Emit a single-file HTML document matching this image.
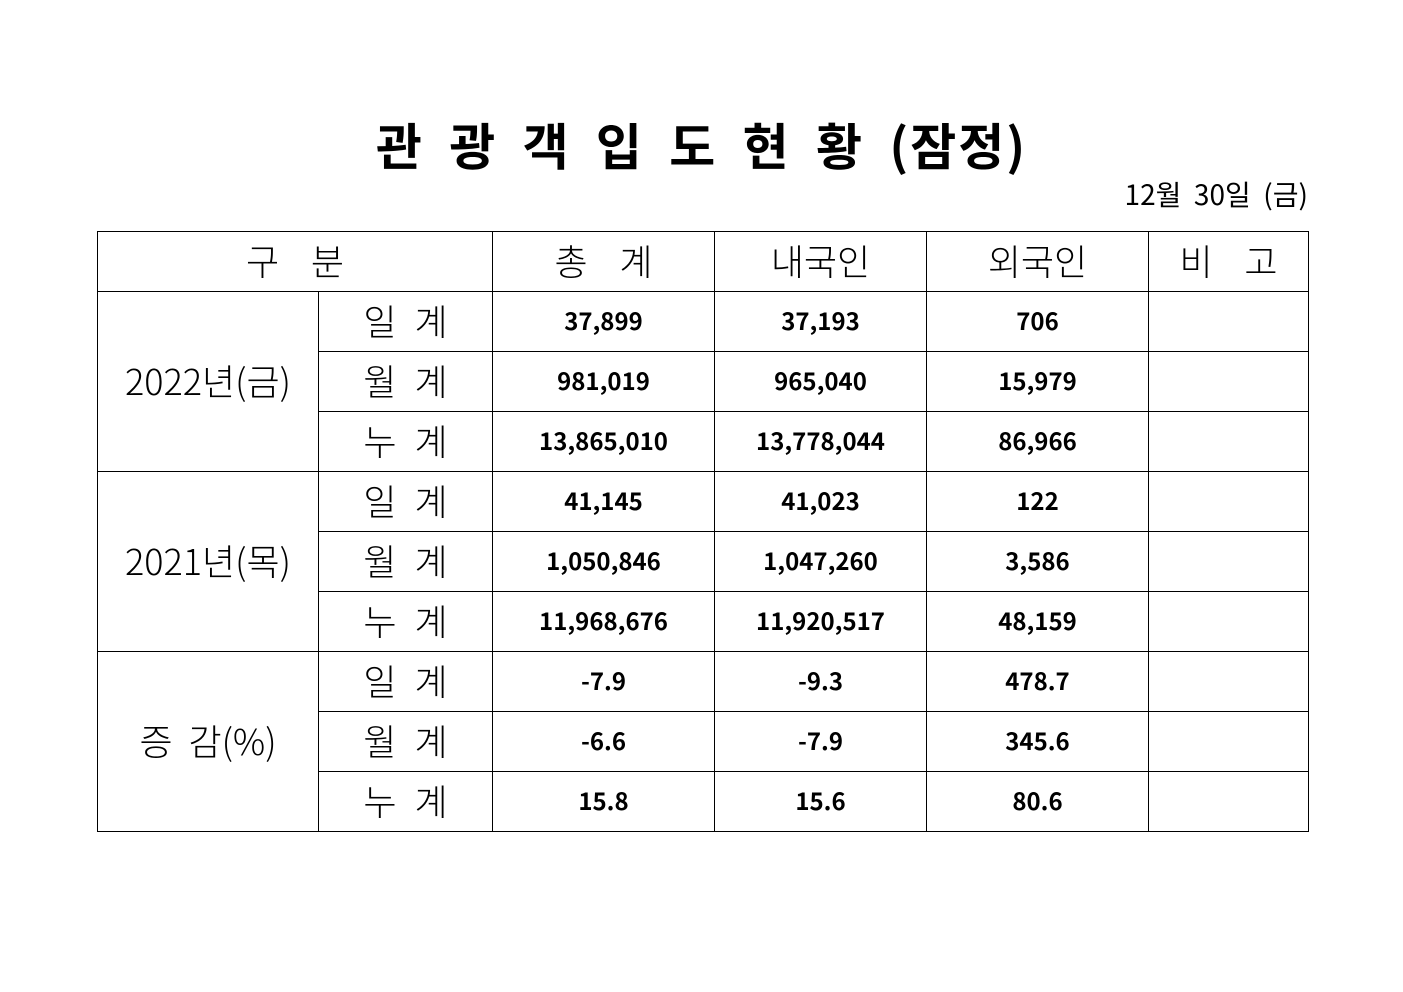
<!DOCTYPE html>
<html><head><meta charset="utf-8"><style>
html,body{margin:0;padding:0;background:#fff;width:1403px;height:992px;overflow:hidden}
body{position:relative;font-family:"Liberation Sans","Noto Sans CJK KR","NanumGothic",sans-serif;color:#000}
.title{position:absolute;left:0;width:1403px;top:108px;text-align:center;font-size:50px;font-weight:bold;letter-spacing:2px;word-spacing:12px;font-family:"Noto Sans CJK KR","NanumGothic",sans-serif}
.date{position:absolute;right:95px;top:174px;font-size:28px;white-space:pre;font-family:"Noto Sans CJK KR",sans-serif}
table{position:absolute;left:97px;top:231px;border-collapse:collapse;table-layout:fixed}
td{border:1px solid #000;text-align:center;padding:0 0 4px 0;height:55px;font-family:"Noto Sans CJK KR",sans-serif}
.h{font-size:36px;font-weight:300}
.g{font-size:36px;font-weight:300}
.l{font-size:36px;font-weight:300;letter-spacing:18px;padding-left:18px}
.n{font-size:24px;font-weight:bold}
</style></head><body>
<div class="title">관 광 객 입 도 현 황 (잠정)</div>
<div class="date">12월  30일  (금)</div>
<table>
<colgroup><col style="width:221px"><col style="width:174px"><col style="width:222px"><col style="width:212px"><col style="width:222px"><col style="width:160px"></colgroup>
<tr><td colspan="2" class="h">구&nbsp;&nbsp;&nbsp;&nbsp;분</td><td class="h">총&nbsp;&nbsp;&nbsp;&nbsp;계</td><td class="h">내국인</td><td class="h">외국인</td><td class="h">비&nbsp;&nbsp;&nbsp;&nbsp;고</td></tr>
<tr><td rowspan="3" class="g">2022년(금)</td><td class="l">일계</td><td class="n">37,899</td><td class="n">37,193</td><td class="n">706</td><td></td></tr>
<tr><td class="l">월계</td><td class="n">981,019</td><td class="n">965,040</td><td class="n">15,979</td><td></td></tr>
<tr><td class="l">누계</td><td class="n">13,865,010</td><td class="n">13,778,044</td><td class="n">86,966</td><td></td></tr>
<tr><td rowspan="3" class="g">2021년(목)</td><td class="l">일계</td><td class="n">41,145</td><td class="n">41,023</td><td class="n">122</td><td></td></tr>
<tr><td class="l">월계</td><td class="n">1,050,846</td><td class="n">1,047,260</td><td class="n">3,586</td><td></td></tr>
<tr><td class="l">누계</td><td class="n">11,968,676</td><td class="n">11,920,517</td><td class="n">48,159</td><td></td></tr>
<tr><td rowspan="3" class="g">증&nbsp;&nbsp;감(%)</td><td class="l">일계</td><td class="n">-7.9</td><td class="n">-9.3</td><td class="n">478.7</td><td></td></tr>
<tr><td class="l">월계</td><td class="n">-6.6</td><td class="n">-7.9</td><td class="n">345.6</td><td></td></tr>
<tr><td class="l">누계</td><td class="n">15.8</td><td class="n">15.6</td><td class="n">80.6</td><td></td></tr>
</table>
</body></html>
